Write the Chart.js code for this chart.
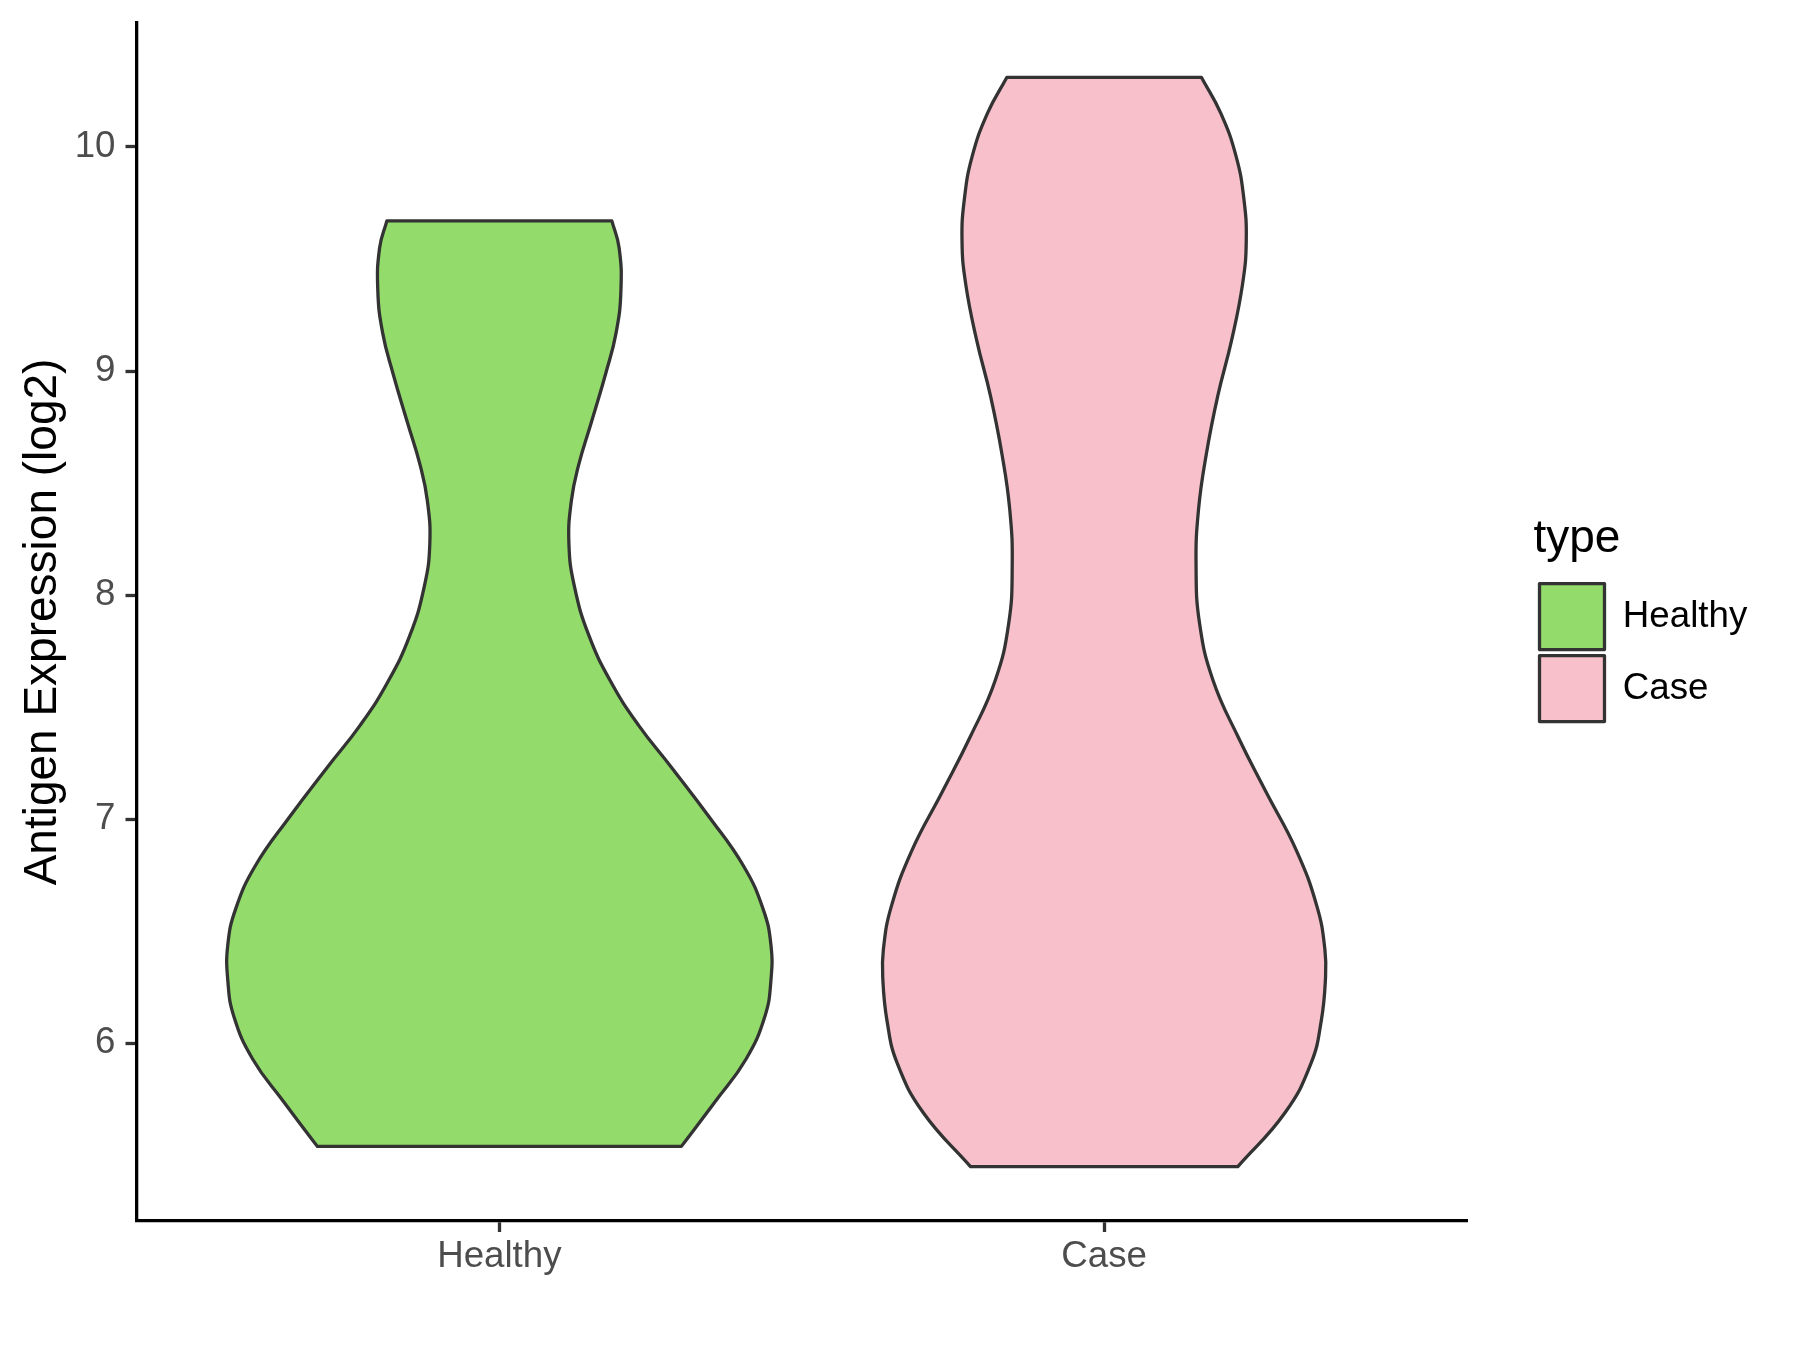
<!DOCTYPE html>
<html>
<head>
<meta charset="utf-8">
<script src="https://cdn.jsdelivr.net/npm/chart.js@4.4.1/dist/chart.umd.min.js"></script>
<style>
html,body{margin:0;padding:0;background:#ffffff;}
#wrap{width:1800px;height:1350px;}
</style>
</head>
<body>
<div id="wrap"><canvas id="c" width="1800" height="1350"></canvas></div>
<script>
// ---- data ----
const categories = ['Healthy', 'Case'];
const yTickValues = [6, 7, 8, 9, 10];

// Healthy violin: expression values (ascending) and half-width of the density outline (category units)
const healthyValues     = [5.54, 5.74, 5.93, 6.12, 6.28, 6.44, 6.60, 6.79, 7.01, 7.23, 7.42, 7.61, 7.82, 8.04, 8.23, 8.42, 8.58, 8.77, 8.99, 9.17, 9.36, 9.55, 9.67];
const healthyHalfWidths = [0.301, 0.357, 0.408, 0.439, 0.449, 0.449, 0.436, 0.404, 0.347, 0.285, 0.230, 0.185, 0.148, 0.124, 0.115, 0.119, 0.131, 0.152, 0.176, 0.193, 0.201, 0.198, 0.186];

// Case violin
const caseValues     = [5.45, 5.69, 5.91, 6.10, 6.29, 6.42, 6.61, 6.86, 7.12, 7.37, 7.62, 7.87, 8.13, 8.38, 8.63, 8.89, 9.14, 9.39, 9.58, 9.77, 9.96, 10.15, 10.31];
const caseHalfWidths = [0.221, 0.299, 0.342, 0.359, 0.366, 0.365, 0.352, 0.318, 0.268, 0.221, 0.180, 0.158, 0.152, 0.156, 0.169, 0.188, 0.211, 0.229, 0.235, 0.231, 0.218, 0.193, 0.161];

const fillColors = ['#93DB6B', '#F7C0CB'];
const lineColor = '#333333';
const FONT = "'Liberation Sans', Arial, Helvetica, sans-serif";
const TICK_SIZE = 36.7, TITLE_SIZE = 46;

// ---- build violin outlines (closed polygons) ----
function outline(center, values, widths) {
  const left = values.map((v, i) => ({x: center - widths[i], y: v}));
  const right = values.map((v, i) => ({x: center + widths[i], y: v})).reverse();
  const n = left.length;
  // corner points repeated so the flat top/bottom edges stay straight under tension
  return [...left, left[n - 1], right[0], ...right, right[n - 1], left[0], left[0]];
}

const allValues = healthyValues.concat(caseValues);
const dMin = Math.min(...allValues), dMax = Math.max(...allValues);
const expand = (dMax - dMin) * 0.05;

const series = [[healthyValues, healthyHalfWidths], [caseValues, caseHalfWidths]];
const datasets = categories.map((cat, i) => ({
  label: cat,
  data: outline(i + 1, series[i][0], series[i][1]),
  showLine: true,
  fill: 'shape',
  backgroundColor: fillColors[i],
  borderColor: lineColor,
  borderWidth: 3.3,
  borderJoinStyle: 'round',
  borderCapStyle: 'round',
  tension: 0.45,
  pointRadius: 0,
  pointHoverRadius: 0,
  xAxisID: 'x',
  yAxisID: 'y'
}));

// legend geometry: width Chart.js will give the right-hand legend
const LEG_PAD = 6, BOX_W = 65, BOX_H = 66;
const mctx = document.createElement('canvas').getContext('2d');
mctx.font = TICK_SIZE + 'px ' + FONT;
const maxText = Math.max(...categories.map(c => mctx.measureText(c).width));
const legendW = LEG_PAD + BOX_W + TICK_SIZE / 2 + maxText + 10;
const legendLeft = 1533.5;
const padRight = 1800 - legendLeft - legendW;
const plotRight = 1467;

const axisGrid = {display: true, drawOnChartArea: false, drawTicks: true, tickLength: 11, tickWidth: 3.3, tickColor: lineColor};
const axisBorder = {display: true, color: '#000000', width: 3.3};

new Chart(document.getElementById('c'), {
  type: 'scatter',
  data: {datasets},
  options: {
    responsive: false,
    animation: false,
    events: [],
    devicePixelRatio: 1,
    layout: {autoPadding: false, padding: {left: 0, right: padRight, top: 23, bottom: 0}},
    plugins: {
      tooltip: {enabled: false},
      legend: {
        display: true,
        position: 'right',
        align: 'center',
        fullSize: false,
        title: {display: true, text: 'type', position: 'start', color: '#000000',
                font: {family: FONT, size: TITLE_SIZE}, padding: {top: 0, bottom: 6}},
        labels: {boxWidth: BOX_W, boxHeight: BOX_H, padding: LEG_PAD, color: '#000000',
                 font: {family: FONT, size: TICK_SIZE}}
      }
    },
    scales: {
      x: {
        type: 'linear',
        min: 0.4,
        max: categories.length + 0.6,
        afterBuildTicks: s => { s.ticks = categories.map((c, i) => ({value: i + 1})); },
        afterFit: s => { s.height = 129; },
        ticks: {callback: v => categories[Math.round(v) - 1], color: '#4D4D4D',
                font: {family: FONT, size: TICK_SIZE}, padding: 3, maxRotation: 0, autoSkip: false},
        grid: axisGrid,
        border: axisBorder
      },
      y: {
        type: 'linear',
        position: 'left',
        min: dMin - expand,
        max: dMax + expand,
        afterBuildTicks: s => { s.ticks = yTickValues.map(v => ({value: v})); },
        afterFit: s => { s.width = 136.5; },
        ticks: {callback: v => String(v), color: '#4D4D4D',
                font: {family: FONT, size: TICK_SIZE, lineHeight: 0.6}, padding: 10},
        grid: axisGrid,
        border: axisBorder,
        title: {display: true, text: 'Antigen Expression (log2)', color: '#000000',
                font: {family: FONT, size: TITLE_SIZE}, padding: {top: 16, bottom: 0}}
      },
      yR: {
        type: 'linear',
        position: 'right',
        display: true,
        grid: {display: false},
        border: {display: false},
        ticks: {display: false},
        afterFit: s => { s.width = legendLeft - plotRight; }
      }
    }
  }
});
</script>
</body>
</html>
